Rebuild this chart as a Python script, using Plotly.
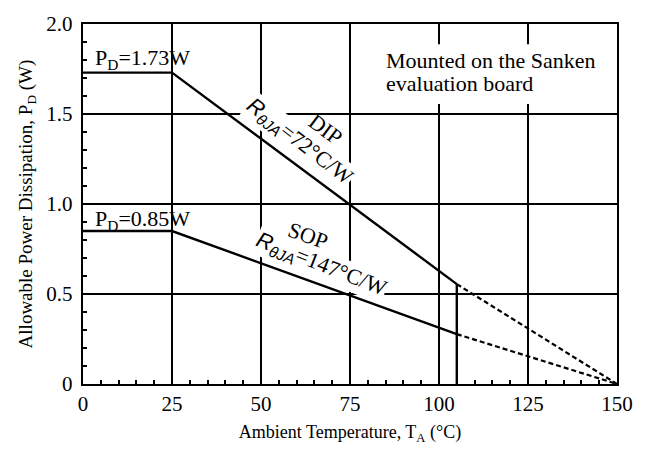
import plotly.graph_objects as go

# Data
dip_solid_x = [0, 25, 105]
dip_solid_y = [1.73, 1.73, 0.555]
dip_dash_x = [105, 150]
dip_dash_y = [0.555, 0]
sop_solid_x = [0, 25, 105]
sop_solid_y = [0.85, 0.85, 0.277]
sop_dash_x = [105, 150]
sop_dash_y = [0.277, 0]
vline_x = [105, 105]
vline_y = [0, 0.555]
x_ticks = [0, 25, 50, 75, 100, 125, 150]
y_ticks = [0, 0.5, 1.0, 1.5, 2.0]
y_ticklabels = ["0", "0.5", "1.0", "1.5", "2.0"]

SERIF = "Liberation Serif, Times New Roman, serif"

fig = go.Figure()
solid = dict(color="black", width=2.4)
dashed = dict(color="black", width=2.2, dash="5px,3px")
fig.add_trace(go.Scatter(x=dip_solid_x, y=dip_solid_y, mode="lines", line=solid))
fig.add_trace(go.Scatter(x=dip_dash_x, y=dip_dash_y, mode="lines", line=dashed))
fig.add_trace(go.Scatter(x=sop_solid_x, y=sop_solid_y, mode="lines", line=solid))
fig.add_trace(go.Scatter(x=sop_dash_x, y=sop_dash_y, mode="lines", line=dashed))
fig.add_trace(go.Scatter(x=vline_x, y=vline_y, mode="lines", line=dict(color="black", width=2.4)))

fig.update_layout(
    width=645, height=451,
    margin=dict(l=83, r=19, t=12, b=66),
    paper_bgcolor="white", plot_bgcolor="white",
    showlegend=False,
    font=dict(family=SERIF, size=20, color="black"),
)
fig.update_xaxes(
    range=[0, 150], tickvals=x_ticks, showgrid=True, gridcolor="black", gridwidth=1.7,
    zeroline=False, showline=True, linecolor="black", linewidth=2.4, mirror=True,
    ticks="inside", ticklen=4, tickwidth=2, tickcolor="black",
    minor=dict(dtick=5, ticks="inside", ticklen=4, tickwidth=2, tickcolor="black", showgrid=False),
    tickfont=dict(family=SERIF, size=21),
    title=dict(text="Ambient Temperature, T<sub>A</sub> (°C)", font=dict(family=SERIF, size=18), standoff=10),
)
fig.update_yaxes(
    range=[0, 2.0], tickvals=y_ticks, ticktext=y_ticklabels, showgrid=True, gridcolor="black", gridwidth=1.7,
    zeroline=False, showline=True, linecolor="black", linewidth=2.4, mirror=True,
    ticks="inside", ticklen=4, tickwidth=2, tickcolor="black",
    minor=dict(dtick=0.1, ticks="inside", ticklen=4, tickwidth=2, tickcolor="black", showgrid=False),
    tickfont=dict(family=SERIF, size=21), ticklabelstandoff=4,
    title=dict(text="Allowable Power Dissipation, P<sub>D</sub> (W)", font=dict(family=SERIF, size=19), standoff=9),
)

R = "<span style='font-family:Liberation Sans'><i>R</i><sub><i>θJA</i></sub></span>"


def fx(px):
    return (px - 83) / 543 * 150


def fy(py):
    return (385 - py) / 373 * 2


def ann(px, py, text, angle=0, bg="white", size=22, xanchor="center"):
    fig.add_annotation(x=fx(px), y=fy(py), xref="x", yref="y", text=text, showarrow=False,
                       textangle=angle, bgcolor=bg, font=dict(family=SERIF, size=size, color="black"),
                       xanchor=xanchor, borderpad=0)


# white mask behind the note (between gridlines and traces)
fig.add_shape(type="rect", xref="x", yref="y", x0=fx(386), x1=fx(602), y0=fy(95), y1=fy(33),
              fillcolor="white", line=dict(width=0), layer="between")

ann(144, 48, "P<sub>D</sub>=1.73W", bg="rgba(0,0,0,0)")
ann(144, 215, "P<sub>D</sub>=0.85W", bg="rgba(0,0,0,0)")
ann(390, 50, "Mounted on the Sanken", bg="rgba(0,0,0,0)", size=22, xanchor="left")
ann(390, 74, "evaluation board", bg="rgba(0,0,0,0)", size=22, xanchor="left")

ann(303, 134, R + "=72°C/W", angle=37.5)
ann(330, 121, "DIP", angle=37, bg="rgba(0,0,0,0)")
ann(325, 262, R + "=147°C/W", angle=21.5)
ann(312, 231, "SOP", angle=20, bg="rgba(0,0,0,0)")

fig.write_html("out.html")
